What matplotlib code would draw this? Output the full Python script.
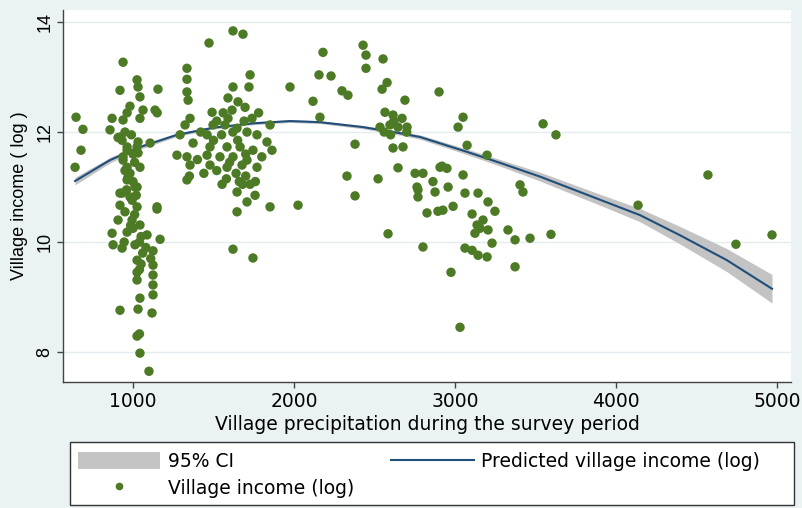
import matplotlib
matplotlib.use("Agg")
import matplotlib.pyplot as plt
from matplotlib.patches import Patch, Rectangle
from matplotlib.lines import Line2D
import numpy as np

plt.rcParams['font.family'] = ['DejaVu Sans']

# scatter: village precipitation vs village income (log)
precip = [
    # far left
    646, 689, 677, 640,
    # ~1000 band
    938, 1025, 919, 1031, 1043, 1155, 1137, 1062, 981, 963, 870, 857, 907, 932,
    1106, 1025, 963, 1031, 938, 1043, 981, 963, 1012, 932, 981,
    938, 1043, 919, 963, 1031, 938, 963, 969, 1025, 919, 994, 919, 1025, 1149,
    1149, 907, 994, 1043, 870, 963, 1087, 1168, 876, 932, 1012, 1124, 1025, 1124,
    1025, 1124, 1025, 1124, 1124, 1043, 919, 1031, 1118, 1025, 1040, 1043, 1099,
    950, 990, 1000, 950, 1000, 960, 1010, 950, 985, 1050, 1040, 1000, 1060, 1040,
    1110, 1010, 945, 1020, 1150, 1080, 1050,
    # 1300-1900
    1621, 1683, 1472, 1335, 1335, 1727, 1335, 1342, 1621, 1720, 1590, 1652, 1696,
    1615, 1491, 1354, 1323, 1590, 1739, 1851, 1497, 1571, 1646, 1292, 1460, 1708,
    1770, 1373, 1832, 1863, 1273, 1478, 1584, 1665, 1745, 1335, 1460, 1540, 1621,
    1708, 1354, 1478, 1584, 1677, 1770,
    1335, 1553, 1727, 1646, 1758, 1708, 1851, 1646, 1621, 1745, 2025,
    1500, 1550, 1650, 1700, 1600, 1520, 1640, 1700, 1760, 1580, 1680, 1400, 1420,
    1560, 1690, 1800, 1620, 1440, 1520, 1780, 1350, 1660,
    # 2000-3700
    2180, 2429, 2447, 2553, 2447, 2155, 2230, 1975, 2298, 2335, 2578, 2547, 2689,
    2118, 2161, 2565, 2615, 2671, 2534, 2596, 2646, 2702, 2379, 2615, 2677, 2329,
    2522, 2646, 2752, 2764, 2379, 2584, 2620, 2700, 2560, 2600,
    2901, 3050, 3019, 3547, 3627, 3075, 3199, 2907, 2950, 3050, 2801, 2863, 2957,
    2876, 3062, 3143, 3404, 3422, 2770,
    2919, 2770, 3205, 3248, 2826, 2894, 2925, 2988, 3106, 3174, 3137, 3155, 3205,
    3124, 3230, 3329, 3373, 3466, 3596, 2801, 3062, 3106, 3143, 3199, 3373, 2975,
    3031,
    # high precipitation
    4571, 4137, 4745, 4969,
]
income = [
    12.27, 12.05, 11.67, 11.36,
    13.27, 12.95, 12.76, 12.82, 12.64, 12.78, 12.40, 12.40, 12.47, 12.35, 12.25,
    12.04, 11.90, 11.85, 11.80, 11.73, 11.67, 11.62, 11.49, 11.36, 11.25, 11.13,
    11.00, 10.89, 10.82,
    12.22, 12.25, 11.91, 11.73, 11.82, 11.55, 11.36, 11.18, 11.00, 10.89, 10.76,
    10.67, 10.64, 10.64,
    10.60, 10.40, 10.40, 10.31, 10.16, 10.18, 10.13, 10.05, 9.95, 9.89, 9.95, 9.84,
    9.67, 9.58, 9.45, 9.40, 9.31, 9.22, 9.04, 8.98, 8.76, 8.78, 8.71, 8.29, 8.33,
    7.98, 7.65,
    12.00, 11.95, 11.60, 11.30, 11.10, 10.95, 10.50, 10.55, 10.30, 10.10, 10.00,
    10.25, 9.80, 9.50, 9.70, 11.45, 10.00, 10.85, 12.35, 9.90, 9.60,
    13.84, 13.78, 13.62, 13.16, 12.96, 13.04, 12.73, 12.58, 12.82, 12.82, 12.62,
    12.55, 12.45, 12.40, 12.36, 12.25, 12.13, 12.25, 12.25, 12.13, 12.13, 12.13,
    12.07, 11.95, 11.95, 12.00, 11.95, 11.80, 11.82, 11.67, 11.58, 11.73, 11.73,
    11.73, 11.67, 11.55, 11.58, 11.55, 11.55, 11.49, 11.40, 11.40, 11.36, 11.40,
    11.36,
    11.13, 11.05, 11.05, 10.91, 10.85, 10.73, 10.64, 10.55, 9.87, 9.71, 10.67,
    11.85, 11.95, 11.85, 11.60, 11.45, 11.30, 11.25, 11.20, 11.10, 11.15, 11.05,
    11.50, 12.00, 12.35, 12.20, 11.55, 12.00, 11.25, 12.20, 12.35, 11.20, 11.10,
    13.45, 13.58, 13.40, 13.33, 13.16, 13.04, 13.02, 12.82, 12.75, 12.67, 12.90,
    12.78, 12.58, 12.56, 12.27, 12.36, 12.31, 12.25, 12.09, 12.13, 12.09, 12.09,
    11.78, 11.71, 11.73, 11.20, 11.15, 11.35, 11.25, 11.00, 10.84, 10.15, 12.20,
    12.00, 12.00, 11.95,
    12.73, 12.27, 12.09, 12.15, 11.95, 11.76, 11.58, 11.36, 11.34, 11.22, 11.25,
    11.10, 11.00, 10.91, 10.89, 10.89, 11.04, 10.91, 10.95,
    11.38, 10.82, 10.73, 10.56, 10.53, 10.56, 10.58, 10.65, 10.51, 10.40, 10.31,
    10.25, 10.22, 10.16, 9.98, 10.22, 10.04, 10.07, 10.14, 9.91, 9.89, 9.85, 9.76,
    9.73, 9.55, 9.45, 8.45,
    11.22, 10.67, 9.96, 10.13,
]

# fitted line and 95% CI half width, read at points along the curve
fit_x = [640, 857, 1025, 1273, 1500, 1750, 1975, 2161, 2429, 2658, 2783, 3075,
         3280, 3528, 3900, 4149, 4400, 4689, 4969]
fit_y = [11.11, 11.49, 11.71, 11.95, 12.08, 12.16, 12.20, 12.18, 12.09, 11.98,
         11.91, 11.64, 11.44, 11.19, 10.77, 10.49, 10.12, 9.67, 9.15]
ci_half = [0.07, 0.05, 0.04, 0.03, 0.025, 0.025, 0.025, 0.025, 0.03, 0.035,
           0.04, 0.05, 0.06, 0.08, 0.10, 0.12, 0.16, 0.21, 0.26]

x_ticks = [1000, 2000, 3000, 4000, 5000]
y_ticks = [8, 10, 12, 14]

bg = '#EAF2F3'
green = '#4C7A25'
navy = '#1F4E7A'
ci_gray = '#C3C3C3'
W, H = 802, 508

fig = plt.figure(figsize=(8.02, 5.08), dpi=100, facecolor=bg)
ax = fig.add_axes([63 / W, 126 / H, 728 / W, 372 / H])
ax.set_facecolor('white')

fy = np.array(fit_y)
ch = np.array(ci_half)
ax.fill_between(fit_x, fy - ch, fy + ch, color=ci_gray, lw=0, zorder=2)
ax.plot(fit_x, fit_y, color=navy, lw=1.5, zorder=3)
ax.scatter(precip, income, s=46, color=green, edgecolors='none', zorder=4)

ax.set_xlim(565, 5087)
ax.set_ylim(7.455, 14.22)
ax.set_xticks(x_ticks)
ax.set_yticks(y_ticks)
ax.grid(True, axis='y', color='#E3EDEF', lw=1, zorder=0)
ax.set_axisbelow(True)

for side in ['top', 'right']:
    ax.spines[side].set_visible(False)
for side in ['left', 'bottom']:
    ax.spines[side].set_color('#444444')
    ax.spines[side].set_linewidth(1)

ax.tick_params(direction='out', length=4, width=1, color='#444444', pad=3)
ax.tick_params(axis='x', labelsize=13.5)
ax.tick_params(axis='y', labelsize=13)
for lab in ax.get_yticklabels():
    lab.set_rotation(90)
    lab.set_va('center')
    lab.set_family('Liberation Sans')

ax.set_xlabel('Village precipitation during the survey period', fontsize=13.5,
              labelpad=3)
ax.set_ylabel('Village income ( log )', fontsize=13, labelpad=6,
              family='Liberation Sans')

# legend box drawn separately so it spans the full width like the original
fig.patches.append(Rectangle((70 / W, 3 / H), 724 / W, 63 / H,
                             transform=fig.transFigure, facecolor='white',
                             edgecolor='#333333', lw=1, zorder=1))

handles = [
    Patch(facecolor=ci_gray, edgecolor='none'),
    Line2D([], [], marker='o', ls='none', color=green, markersize=4.5),
    Line2D([], [], color=navy, lw=1.5),
]
labels = ['95% CI', 'Village income (log)', 'Predicted village income (log)']
leg = fig.legend(handles, labels, ncol=2, loc='lower left',
                 bbox_to_anchor=(70 / W, 3 / H), borderaxespad=0,
                 fontsize=13.5, frameon=False, handlelength=4.4,
                 handleheight=1.0, borderpad=0.4, labelspacing=0.4,
                 handletextpad=0.4, columnspacing=2.0)
leg.set_zorder(2)

fig.savefig('out.png', dpi=100, facecolor=bg)
